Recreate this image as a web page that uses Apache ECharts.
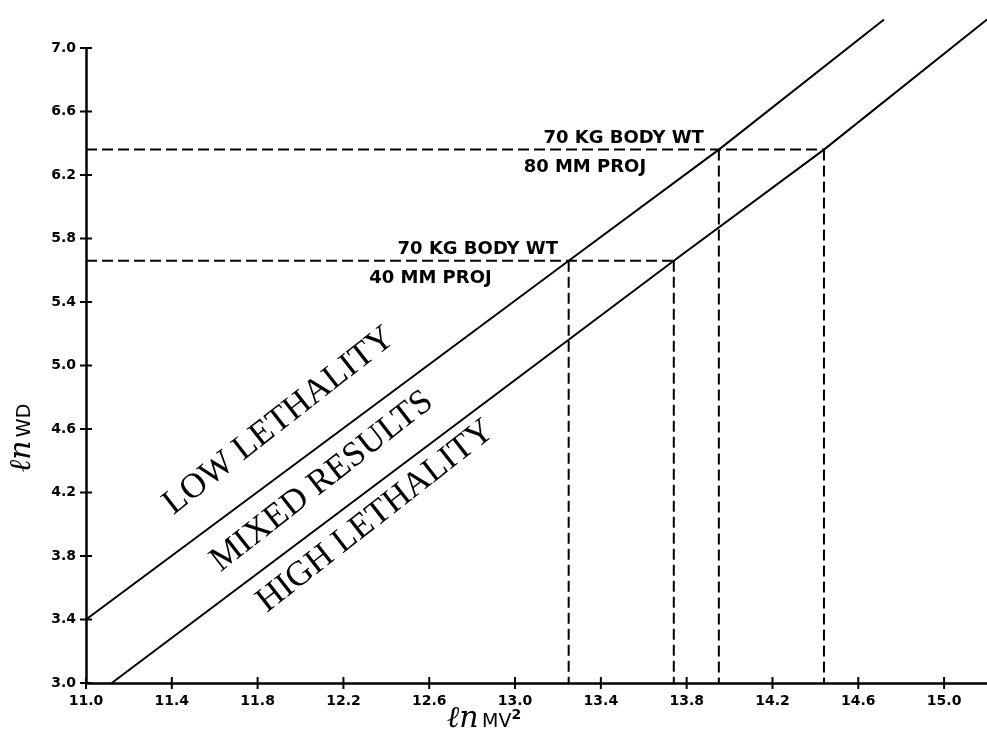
<!DOCTYPE html>
<html>
<head>
<meta charset="utf-8">
<script src="https://cdn.jsdelivr.net/npm/echarts@6/dist/echarts.min.js"></script>
<style>
html,body{margin:0;padding:0;background:#fff;}
#chart{width:987px;height:736px;}
</style>
</head>
<body>
<div id="chart"></div>
<script>
// ---- data ----
const xTicks = [11.0, 11.4, 11.8, 12.2, 12.6, 13.0, 13.4, 13.8, 14.2, 14.6, 15.0];
const yTicks = [3.0, 3.4, 3.8, 4.2, 4.6, 5.0, 5.4, 5.8, 6.2, 6.6, 7.0];

// boundary lines (ln MV^2, ln WD)
const upperX = [11.0, 13.25, 13.95, 14.72];
const upperY = [3.4, 5.66, 6.36, 7.18];
const lowerX = [11.12, 13.74, 14.44, 15.2];
const lowerY = [3.0, 5.66, 6.36, 7.18];

// projectile cases: ln WD level, crossing on upper line, crossing on lower line
const caseLevels = [5.66, 6.36];
const caseUpperX = [13.25, 13.95];
const caseLowerX = [13.74, 14.44];
const caseTop = ['70 KG BODY WT', '70 KG BODY WT'];
const caseBottom = ['40 MM PROJ', '80 MM PROJ'];

// region labels
const regionNames = ['LOW LETHALITY', 'MIXED RESULTS', 'HIGH LETHALITY'];
const regionX = [11.90, 12.10, 12.35];
const regionY = [4.65, 4.27, 4.05];

const X_MIN = 11.0, X_MAX = 15.2, Y_MIN = 3.0, Y_MAX = 7.0;

// ---- build series ----
const ink = '#000';
const series = [];
function pairs(xs, ys){ return xs.map((x,i)=>[x, ys[i]]); }

series.push({type:'line', data:pairs(upperX, upperY), symbol:'none', clip:false,
  lineStyle:{color:ink, width:2}, z:5});
series.push({type:'line', data:pairs(lowerX, lowerY), symbol:'none', clip:false,
  lineStyle:{color:ink, width:2}, z:5});

const dashStyle = {color:ink, width:2, type:[11,5]};
caseLevels.forEach((lv, i) => {
  series.push({type:'line', symbol:'none', lineStyle:dashStyle,
    data:[[X_MIN, lv],[caseLowerX[i], lv]]});
  series.push({type:'line', symbol:'none', lineStyle:dashStyle,
    data:[[caseUpperX[i], lv],[caseUpperX[i], Y_MIN]]});
  series.push({type:'line', symbol:'none', lineStyle:dashStyle,
    data:[[caseLowerX[i], lv],[caseLowerX[i], Y_MIN]]});
});

// cross-shaped ticks drawn through the axes' scales
const tickData = xTicks.map(v=>[v, Y_MIN, 0]).concat(yTicks.map(v=>[X_MIN, v, 1]));
series.push({type:'custom', data:tickData, clip:false, z:6, silent:true,
  renderItem:function(params, api){
    const p = api.coord([api.value(0), api.value(1)]);
    const h = 6;
    const shape = api.value(2) === 0 ? {x1:p[0], y1:p[1]-h, x2:p[0], y2:p[1]+h}
                                     : {x1:p[0]-h, y1:p[1], x2:p[0]+h, y2:p[1]};
    return {type:'line', shape:shape, style:{stroke:ink, lineWidth:2}};
  }});

// case labels positioned relative to the crossing points
const annoFont = {fontFamily:'DejaVu Sans', fontSize:18, fontWeight:'bold', color:ink, textBorderWidth:0, opacity:1};
const annoData = [];
caseLevels.forEach((lv, i) => {
  annoData.push({value:[caseUpperX[i] - (i===0?0.05:0.07), lv + 0.07],
    label:Object.assign({show:true, formatter:caseTop[i], position:'inside', align:'right', verticalAlign:'middle'}, annoFont)});
  annoData.push({value:[caseUpperX[i] - (i===0?0.93:0.91), lv - 0.11],
    label:Object.assign({show:true, formatter:caseBottom[i], position:'inside', align:'left', verticalAlign:'middle'}, annoFont)});
});
series.push({type:'scatter', symbolSize:0, data:annoData, silent:true, z:6, itemStyle:{opacity:1}});

const regionData = regionNames.map((n,i)=>({value:[regionX[i], regionY[i]],
  label:{show:true, formatter:n, position:'inside', rotate:38, align:'center', verticalAlign:'middle',
    fontFamily:'Liberation Serif', fontSize:35, color:ink, textBorderWidth:0, opacity:1}}));
series.push({type:'scatter', symbolSize:0, data:regionData, silent:true, z:6, itemStyle:{opacity:1}});

const tickLabelFont = {fontFamily:'DejaVu Sans', fontSize:14, fontWeight:'bold', color:ink};
const titleRich = {
  a:{fontFamily:'DejaVu Serif', fontStyle:'italic', fontSize:30, color:ink},
  b:{fontFamily:'DejaVu Sans', fontSize:19, color:ink, padding:[6,0,0,0]},
  c:{fontFamily:'DejaVu Sans', fontSize:14, fontWeight:'bold', color:ink, padding:[0,0,8,0]}
};

const option = {
  animation:false,
  backgroundColor:'#fff',
  grid:{left:86, right:-6, top:48, bottom:53, containLabel:false},
  xAxis:{
    type:'value', min:X_MIN, max:X_MAX,
    axisLine:{show:true, lineStyle:{color:ink, width:2.5}},
    axisTick:{show:false},
    axisLabel:Object.assign({customValues:xTicks, margin:11, formatter:v=>v.toFixed(1)}, tickLabelFont),
    splitLine:{show:false}
  },
  yAxis:{
    type:'value', min:Y_MIN, max:Y_MAX, interval:0.4,
    axisLine:{show:true, lineStyle:{color:ink, width:2.5}},
    axisTick:{show:false},
    axisLabel:Object.assign({margin:10, formatter:v=>v.toFixed(1)}, tickLabelFont),
    splitLine:{show:false}
  },
  graphic:[
    {type:'text', x:484, y:719, style:{text:'{a|ℓn} {b|MV}{c|2}', rich:titleRich, align:'center', verticalAlign:'middle'}},
    {type:'text', x:22, y:438, rotation:Math.PI/2, style:{text:'{a|ℓn} {b|WD}', rich:titleRich, align:'center', verticalAlign:'middle'}}
  ],
  series: series
};

const chart = echarts.init(document.getElementById('chart'), null, {renderer:'canvas'});
chart.setOption(option);
</script>
</body>
</html>
